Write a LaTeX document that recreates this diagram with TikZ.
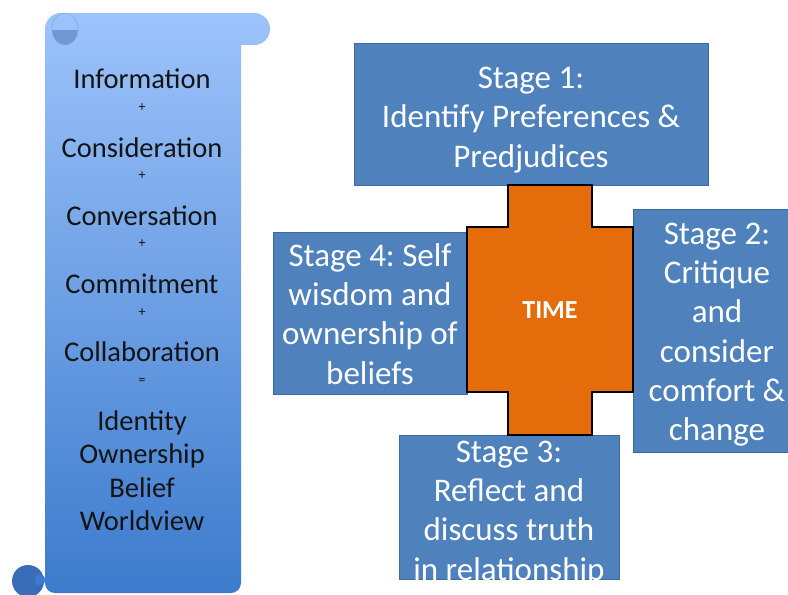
\documentclass[tikz,border=0pt]{standalone}
\usepackage{fontspec}
\setmainfont{Carlito}
\frenchspacing
\definecolor{stageblue}{HTML}{4F81BD}
\definecolor{stageedge}{HTML}{3F6A9E}
\definecolor{timeorange}{HTML}{E46C0A}
\definecolor{scrolltop}{HTML}{9DC3FB}
\definecolor{scrollbot}{HTML}{3C7BCD}
\definecolor{curltop}{HTML}{7396D2}
\definecolor{curlbot}{HTML}{3A6DB8}
\definecolor{scrollink}{HTML}{141414}
\begin{document}
\begin{tikzpicture}[x=1pt,y=-1pt,
  stagebox/.style={draw=stageedge, fill=stageblue, line width=0.8pt, inner sep=0pt},
  stagetext/.style={text=white, align=center, inner sep=0pt,
    font=\fontsize{33}{39.3}\selectfont},
  scrollword/.style={text=scrollink, anchor=base, inner sep=0pt,
    font=\fontsize{28.5}{32}\selectfont},
  scrollsign/.style={text=scrollink, inner sep=0pt,
    font=\fontsize{14}{16}\selectfont},
  crossshape/.style={fill=timeorange, draw=black, line width=1.3pt, line join=miter},
]
\useasboundingbox (0,0) rectangle (788,595);
\clip (0,0) rectangle (788,595);

% ---- scroll: body, top roll and lower roll in one shaded path
\shade[top color=scrolltop, bottom color=scrollbot]
  (45,40) -- (241,40) [rounded corners=10pt] -- (241,593) -- (45,593) [sharp corners] -- cycle
  (45,45) -- (45,29) arc[start angle=180, end angle=270, radius=16]
  -- (254,13) arc[start angle=270, end angle=450, radius=16] -- cycle;
% upper curl
\fill[curltop] (52,30) arc[start angle=180, end angle=0, x radius=13, y radius=15] -- cycle;
\draw[curltop!60!scrolltop, line width=0.6pt] (65,29) ellipse[x radius=13, y radius=16];
% lower curl
\fill[curlbot] (28,581) circle[radius=16];
\fill[scrollbot] (40,580) circle[radius=5.5];

% ---- scroll text
\node[scrollword] (w1) at (142,88) {Information};
\node[scrollsign] (p1) at (142,108) {+};
\node[scrollword] (w2) at (142,157) {Consideration};
\node[scrollsign] (p2) at (142,176) {+};
\node[scrollword] (w3) at (142,225) {Conversation};
\node[scrollsign] (p3) at (142,244) {+};
\node[scrollword] (w4) at (142,293) {Commitment};
\node[scrollsign] (p4) at (142,313) {+};
\node[scrollword] (w5) at (142,361) {Collaboration};
\node[scrollsign] (p5) at (142,381) {=};
\node[scrollword] (w6) at (142,430) {Identity};
\node[scrollword] (w7) at (142,463) {Ownership};
\node[scrollword] (w8) at (142,497) {Belief};
\node[scrollword] (w9) at (142,530) {Worldview};

% ---- stage boxes
\node[stagebox, minimum width=354pt, minimum height=142pt] (s1) at (531,114) {};
\node[stagetext] (s1t) at ([yshift=-6pt]s1.center) {Stage 1:\\Identify Preferences \&\\Predjudices};

\node[stagebox, minimum width=168pt, minimum height=243pt] (s2) at (717,330.5) {};
\node[stagetext] (s2t) at ([yshift=-4pt]s2.center) {Stage 2:\\Critique\\and\\consider\\comfort \&\\change};

\node[stagebox, minimum width=194pt, minimum height=162pt] (s4) at (370,313) {};
\node[stagetext] (s4t) at ([yshift=-1pt]s4.center) {Stage 4: Self\\wisdom and\\ownership of\\beliefs};

\node[stagebox, minimum width=220pt, minimum height=144pt] (s3) at (509,507) {};
\begin{scope}
  \clip (s3.north west) rectangle (s3.south east);
  \node[stagetext] (s3t) at ([yshift=-6pt]s3.center) {Stage 3:\\Reflect and\\discuss truth\\in relationship};
\end{scope}

% ---- central cross
\draw[crossshape] (508,185) -- (592,185) -- (592,227) -- (633,227) -- (633,392)
  -- (592,392) -- (592,435) -- (508,435) -- (508,392) -- (467,392) -- (467,227)
  -- (508,227) -- cycle;
\node[text=white, font=\fontsize{26}{30}\bfseries\selectfont] (time) at (550,310) {TIME};
\end{tikzpicture}
\end{document}
